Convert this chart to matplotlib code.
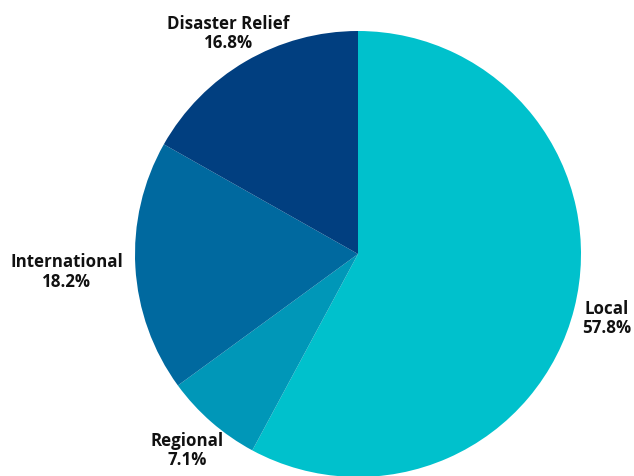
import numpy as np
import matplotlib
matplotlib.use('Agg')
import matplotlib.pyplot as plt

labels = ['Local', 'Regional', 'International', 'Disaster Relief']
shares = [57.8, 7.1, 18.2, 16.8]
colors = ['#00C1CC', '#0097B8', '#00699F', '#013F80']

plt.rcParams['font.family'] = ['Open Sans', 'DejaVu Sans']

fig = plt.figure(figsize=(6.34, 4.77), dpi=100)
# pie centre ~ (358, 254) px, radius ~223 px
ax = fig.add_axes([(358 - 223) / 634, (477 - 255 - 223) / 477, 446 / 634, 446 / 477])

wedges, _ = ax.pie(shares, colors=colors, startangle=90, counterclock=False,
                   radius=1.0, wedgeprops=dict(linewidth=0))
ax.set_xlim(-1, 1)
ax.set_ylim(-1, 1)
ax.set_aspect('equal')
ax.axis('off')

fig.canvas.draw()
renderer = fig.canvas.get_renderer()
px_per_unit = 223.0
gap = 1.055  # gap from centre to nearest edge of the label box, in radii
W, H = fig.bbox.width, fig.bbox.height

for w, lab, val in zip(wedges, labels, shares):
    ang = np.deg2rad((w.theta1 + w.theta2) / 2)
    c, s = np.cos(ang), np.sin(ang)
    t = ax.text(0, 0, f'{lab}\n{val:.1f}%', ha='center', va='center',
                fontsize=12.2, fontweight='bold', color='#111111', linespacing=1.08)
    bb = t.get_window_extent(renderer)
    hw = bb.width / 2 / px_per_unit
    hh = bb.height / 2 / px_per_unit
    d = min(hw / abs(c) if abs(c) > 1e-6 else 1e9, hh / abs(s) if abs(s) > 1e-6 else 1e9)
    r = gap + d
    t.set_position((r * c, r * s))
    # keep the label inside the canvas
    bb = t.get_window_extent(renderer)
    dx = min(0, W - 3 - bb.x1) + max(0, 3 - bb.x0)
    dy = min(0, H - 2 - bb.y1) + max(0, 2 - bb.y0)
    t.set_position((r * c + dx / px_per_unit, r * s + dy / px_per_unit))

fig.savefig('out.png', dpi=100)
